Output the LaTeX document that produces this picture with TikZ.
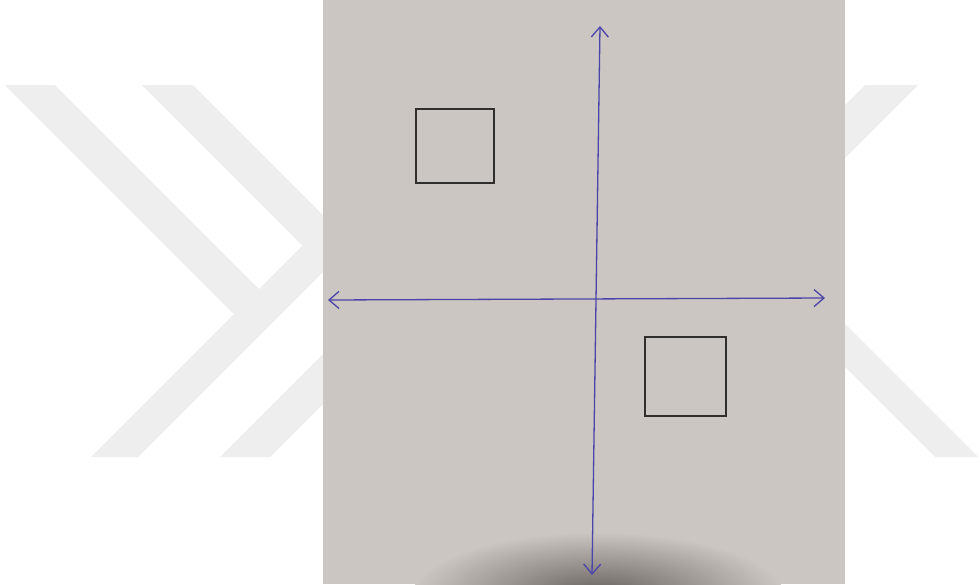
\documentclass[tikz,border=0pt]{standalone}
\usetikzlibrary{arrows.meta}
\definecolor{paper}{RGB}{204,198,194}
\definecolor{papershade}{RGB}{104,98,95}
\definecolor{markgrey}{RGB}{238,238,238}
\definecolor{penblue}{RGB}{74,68,170}
\definecolor{penblack}{RGB}{48,47,45}

\begin{document}
\begin{tikzpicture}[x=1pt,y=-1pt]
\tikzset{
  wmark/.style={fill=markgrey,draw=none},
  sheet/.style={fill=paper,draw=none},
  penaxis/.style={penblue,line width=1.3pt,line cap=round,
    {Straight Barb[length=10pt,width=17pt]}-{Straight Barb[length=10pt,width=17pt]}},
  penbox/.style={draw=penblack,line width=2.4pt,rectangle,inner sep=0pt}
}
\useasboundingbox (0,0) rectangle (980,584);
\fill[white] (0,0) rectangle (980,584);
\fill[wmark] (5,85) -- (55,85) -- (282.5,312.5) -- (234,314) -- cycle;
\fill[wmark] (91,457) -- (138,457) -- (351.5,243.5) -- (328,220) -- cycle;
\fill[wmark] (142,85) -- (193,85) -- (480,372) -- (429,372) -- cycle;
\fill[wmark] (220,457) -- (270,457) -- (470,257) -- (420,257) -- cycle;
\fill[wmark] (865,85) -- (918,85) -- (650,353) -- (597,353) -- cycle;
\fill[wmark] (935,457) -- (978,457) -- (700,179) -- (657,179) -- cycle;
\fill[sheet] (323,0) rectangle (845,584);
\begin{scope}
  \clip (323,0) rectangle (845,584);
  \shade[inner color=papershade,outer color=paper] (598,594) ellipse [x radius=185pt,y radius=62pt];
\end{scope}
\coordinate (n_xW) at (328,300);
\coordinate (n_xE) at (825,298);
\coordinate (n_yN) at (600,26);
\coordinate (n_yS) at (592,575);
\node[penbox,minimum width=78pt,minimum height=74pt] (n_boxA) at (455,146) {};
\node[penbox,minimum width=81pt,minimum height=79pt] (n_boxB) at (685.5,376.5) {};
\draw[penaxis] (n_xW) -- (n_xE);
\draw[penaxis] (n_yN) -- (n_yS);
\end{tikzpicture}
\end{document}
